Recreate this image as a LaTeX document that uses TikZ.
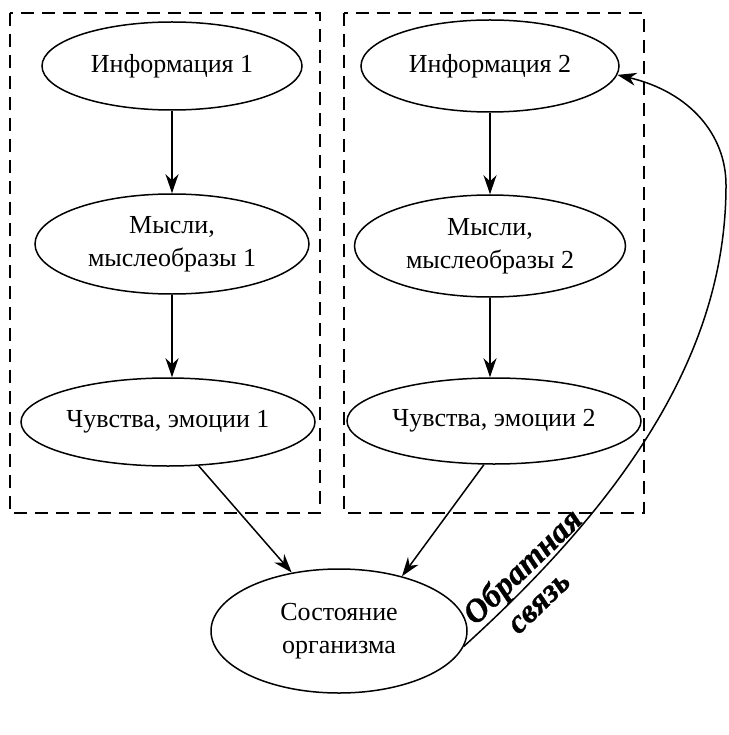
\documentclass[tikz,border=0pt]{standalone}
\usepackage{fontspec}
\setmainfont{Liberation Serif}
\newfontfamily\fbfont[BoldItalicFeatures={FakeBold=0.8}]{Liberation Serif}
\usetikzlibrary{arrows.meta,shapes.geometric}
\begin{document}
\begin{tikzpicture}[x=1pt,y=-1pt,
  ell/.style={draw,line width=1.5pt,ellipse,inner sep=0pt,align=center,font=\fontsize{26}{33}\selectfont},
  box/.style={draw,line width=1.5pt,dash pattern=on 13pt off 8pt},
  arr/.style={line width=1.5pt,-{Stealth[length=19pt,width=13pt,inset=6pt]}},
  fbtext/.style={rotate=44,inner sep=0pt,font=\fbfont\fontsize{33}{36}\selectfont\bfseries\itshape}]
\useasboundingbox (0,0) rectangle (728,735);
\draw[box] (10,13) rectangle (320,513);
\draw[box] (344,13) rectangle (644,513);
\node[ell,minimum width=260pt,minimum height=88pt] (i1) at (172,66) {Информация 1};
\node[ell,minimum width=258pt,minimum height=92pt] (i2) at (490,66) {Информация 2};
\node[ell,minimum width=274pt,minimum height=100pt] (m1) at (172,244) {Мысли,\\мыслеобразы 1};
\node[ell,minimum width=271pt,minimum height=102pt] (m2) at (490,246) {Мысли,\\мыслеобразы 2};
\node[ell,minimum width=294pt,minimum height=88pt] (c1) at (168,422) {Чувства, эмоции 1};
\node[ell,minimum width=294pt,minimum height=86pt] (c2) at (494,421) {Чувства, эмоции 2};
\node[ell,minimum width=256pt,minimum height=124pt] (s) at (339,631) {Состояние\\организма};
\draw[arr] (i1) -- (m1);
\draw[arr] (i2) -- (m2);
\draw[arr] (m1) -- (m1 |- c1.north);
\draw[arr] (m2) -- (m2 |- c2.north);
\draw[arr] (c1.-55) -- (s.129);
\draw[arr] (c2.-103) -- (s.41);
\coordinate (bend) at (726,185);
\draw[arr] (s.-7) .. controls (652,476) and (726,330) .. (bend)
  .. controls (726,135) and (690,92) .. (i2.-4);
\node[fbtext] (fb1) at (524,568) {Обратная};
\node[fbtext] (fb2) at (540,604) {связь};
\end{tikzpicture}
\end{document}
